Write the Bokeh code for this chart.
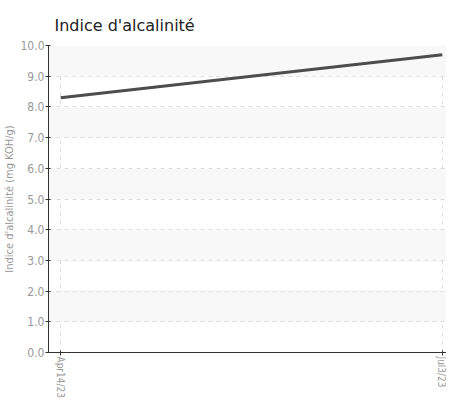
from bokeh.plotting import figure
from bokeh.models import Range1d, FixedTicker, PrintfTickFormatter
from bokeh.embed import file_html
from bokeh.resources import INLINE

dates = ["Apr14/23", "Jul3/23"]
values = [8.3, 9.7]
y_ticks = [0, 1, 2, 3, 4, 5, 6, 7, 8, 9, 10]

xs = list(range(len(dates)))

p = figure(frame_width=398, frame_height=307, output_backend="svg", toolbar_location=None,
           x_range=Range1d(-0.032, 1.011), y_range=Range1d(0, 10),
           title="Indice d'alcalinité",
           min_border_left=43, min_border_top=45, min_border_right=0, min_border_bottom=0)

p.title.text_font = "DejaVu Sans"
p.title.text_font_size = "16px"
p.title.text_font_style = "normal"
p.title.text_color = "#222222"
p.title.offset = 6
p.title.standoff = 21

p.outline_line_color = None
p.background_fill_color = "white"

p.line(xs, values, line_color="#4d4d4d", line_width=3)

narrow = "DejaVu Sans Condensed"

p.xaxis.ticker = FixedTicker(ticks=xs)
p.xaxis.major_label_overrides = {i: d for i, d in zip(xs, dates)}
p.xaxis.major_label_orientation = "vertical"
p.yaxis.ticker = FixedTicker(ticks=y_ticks)
p.yaxis.formatter = PrintfTickFormatter(format="%.1f")
p.yaxis.axis_label = "Indice d'alcalinité (mg KOH/g)"

for ax in (p.xaxis, p.yaxis):
    ax.axis_line_color = "#333333"
    ax.major_tick_line_color = "#333333"
    ax.minor_tick_line_color = None
    ax.major_tick_in = 2
    ax.major_tick_out = 3
    ax.major_label_text_font = narrow
    ax.major_label_text_color = "#999999"
    ax.major_label_standoff = 1

p.xaxis.major_label_text_font_size = "10px"
p.yaxis.major_label_text_font_size = "12px"

p.yaxis.axis_label_text_font = narrow
p.yaxis.axis_label_text_font_size = "11px"
p.yaxis.axis_label_text_font_style = "normal"
p.yaxis.axis_label_text_color = "#999999"
p.yaxis.axis_label_standoff = 1

p.ygrid.grid_line_color = "#dddddd"
p.ygrid.grid_line_dash = "4 4"
p.ygrid.band_fill_color = "#f8f8f8"
p.ygrid.band_fill_alpha = 1.0
p.xgrid.grid_line_color = "#dddddd"
p.xgrid.grid_line_dash = "4 4"

open("out.html", "w").write(file_html(p, INLINE))
